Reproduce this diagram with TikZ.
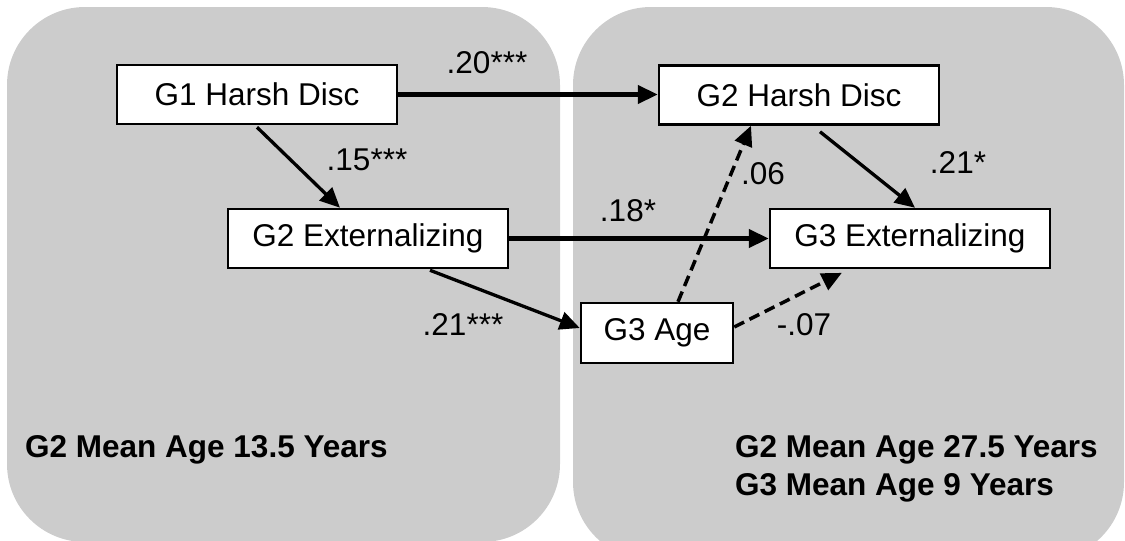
\documentclass[tikz,border=0pt]{standalone}
\usepackage{fontspec}
\setmainfont{Liberation Sans}
\usetikzlibrary{arrows.meta,calc}
\definecolor{panelgray}{RGB}{204,204,204}
\begin{document}
\begin{tikzpicture}[x=1pt,y=-1pt,
  every node/.style={font=\fontsize{31.5}{38}\selectfont},
  panel/.style={fill=panelgray,rounded corners=78pt},
  varbox/.style={draw=black,line width=2.5pt,fill=white,minimum height=59pt,
    minimum width=280pt,inner sep=0pt},
  coef/.style={inner sep=0pt,anchor=base},
  agenote/.style={inner sep=0pt,anchor=base west,font=\fontsize{31.5}{38}\selectfont\bfseries},
  tip/.style={-{Triangle[length=20pt,width=18pt]}},
  solidlink/.style={tip,line width=4.5pt},
  thinlink/.style={tip,line width=3.3pt},
  dashlink/.style={tip,line width=3.5pt,dash pattern=on 11pt off 6pt}
]
\useasboundingbox (0,0) rectangle (1125,541);
\clip (0,0) rectangle (1125,541);

% two time-period panels
\fill[panel] (7,7) rectangle (560,542);
\fill[panel] (573,7) rectangle (1124,560);

% variables
\node[varbox] (g1hd)  at (257,94.5)  {G1 Harsh Disc};
\node[varbox] (g2ext) at (368,238.5) {G2 Externalizing};
\node[varbox] (g2hd)  at (799,95)    {G2 Harsh Disc};
\node[varbox] (g3ext) at (910,238.5) {G3 Externalizing};
\node[varbox,minimum width=152pt,minimum height=60pt] (age) at (657,333) {G3 Age};

% paths
\draw[solidlink] (g1hd.east) -- (g1hd.east -| g2hd.west);
\draw[solidlink] (g2ext.east) -- (g2ext.east -| g3ext.west);
\draw[thinlink] ([yshift=-2pt]g1hd.south) -- ([xshift=-28pt]g2ext.north);
\draw[thinlink] ([xshift=62pt,yshift=-1pt]g2ext.south) -- ([yshift=5pt]age.west);
\draw[thinlink] ([xshift=21pt,yshift=-6pt]g2hd.south) -- ([xshift=5pt]g3ext.north);
\draw[dashlink] ([xshift=21pt]age.north) -- ([xshift=-48pt]g2hd.south);
\draw[dashlink,shorten >=8pt] ([yshift=6pt]age.east) -- ([xshift=-61pt]g3ext.south);

% path coefficients
\node[coef] (c1) at (487,73)  {.20***};
\node[coef] (c2) at (367,170) {.15***};
\node[coef] (c3) at (628,221) {.18*};
\node[coef] (c4) at (463,335) {.21***};
\node[coef] (c5) at (763,184) {.06};
\node[coef] (c6) at (958,173) {.21*};
\node[coef] (c7) at (804,335) {-.07};

% ages
\node[agenote] (n1) at (25,457)  {G2 Mean Age 13.5 Years};
\node[agenote] (n2) at (735,457) {G2 Mean Age 27.5 Years};
\node[agenote] (n3) at (735,495) {G3 Mean Age 9 Years};
\end{tikzpicture}
\end{document}
